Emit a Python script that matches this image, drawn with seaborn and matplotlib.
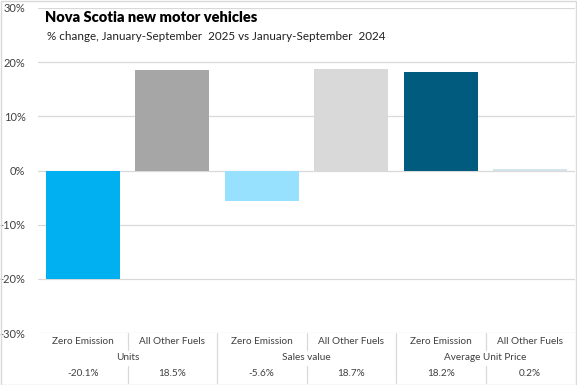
import numpy as np
import pandas as pd
import matplotlib.pyplot as plt
import seaborn as sns
from matplotlib.patches import Rectangle


# data
groups = ["Units", "Sales value", "Average Unit Price"]
fuels = ["Zero Emission", "All Other Fuels"]
changes = [-20.1, 18.5, -5.6, 18.7, 18.2, 0.2]
bar_colors = ["#00B0F0", "#A6A6A6", "#97E1FF", "#D9D9D9", "#005B7F", "#D3E4EB"]
y_ticks = [-30, -20, -10, 0, 10, 20, 30]

df = pd.DataFrame({
    "group": np.repeat(groups, 2),
    "fuel": fuels * 3,
    "change": changes,
})
df["slot"] = df["group"] + " / " + df["fuel"]

sns.set_style("white")
plt.rcParams["font.family"] = ["Lato", "DejaVu Sans"]

W, H = 577, 385
fig = plt.figure(figsize=(W / 100, H / 100), dpi=100)
ax = fig.add_axes([38 / W, 52 / H, 537 / W, 325 / H])

sns.barplot(data=df, x="slot", y="change", hue="slot", palette=bar_colors,
            legend=False, width=0.83, saturation=1, linewidth=0, ax=ax)

grid_c = "#D9D9D9"
ax.set_ylim(-30, 30)
ax.set_xlim(-0.5, len(df) - 0.5)
ax.set_yticks(y_ticks)
ax.set_yticklabels([f"{v}%" for v in y_ticks])
ax.yaxis.grid(True, color=grid_c, lw=0.9)
ax.set_axisbelow(True)
ax.set_xticks([])
ax.set_xlabel("")
ax.set_ylabel("")
for s in ax.spines.values():
    s.set_visible(False)
ax.tick_params(axis="y", length=0, pad=9, labelsize=8, labelcolor="#404040")

# category table under the plot
tr = ax.get_xaxis_transform()
px = 1 / 325
row1, row2, row3 = -8 * px, -24 * px, -41 * px
txt = dict(transform=tr, ha="center", va="center", fontsize=7.2, color="#404040")
for i, r in df.iterrows():
    ax.text(i, row1, r["fuel"], **txt)
    ax.text(i, row3, f"{r['change']:.1f}%", **txt)
for g, name in enumerate(groups):
    ax.text(2 * g + 0.5, row2, name, **txt)

line = dict(transform=tr, color=grid_c, lw=0.9, clip_on=False)
for i in range(len(df) - 1):
    x = i + 0.5
    if i % 2 == 1:
        ax.plot([x, x], [0, -50 * px], **line)
    else:
        ax.plot([x, x], [0, -17 * px], **line)
        ax.plot([x, x], [-33 * px, -50 * px], **line)

fig.text(45 / W, 1 - 18 / H, "Nova Scotia new motor vehicles",
         fontsize=10.5, fontweight="heavy", va="center", color="#000000")
fig.text(47 / W, 1 - 36 / H,
         "% change, January-September  2025 vs January-September  2024",
         fontsize=8.4, va="center", color="#202020")

fig.patches.append(Rectangle((0.5 / W, 0.5 / H), 1 - 1.5 / W, 1 - 1.5 / H,
                             transform=fig.transFigure, fill=False,
                             edgecolor=grid_c, lw=1))

fig.savefig("out.png", dpi=100)
